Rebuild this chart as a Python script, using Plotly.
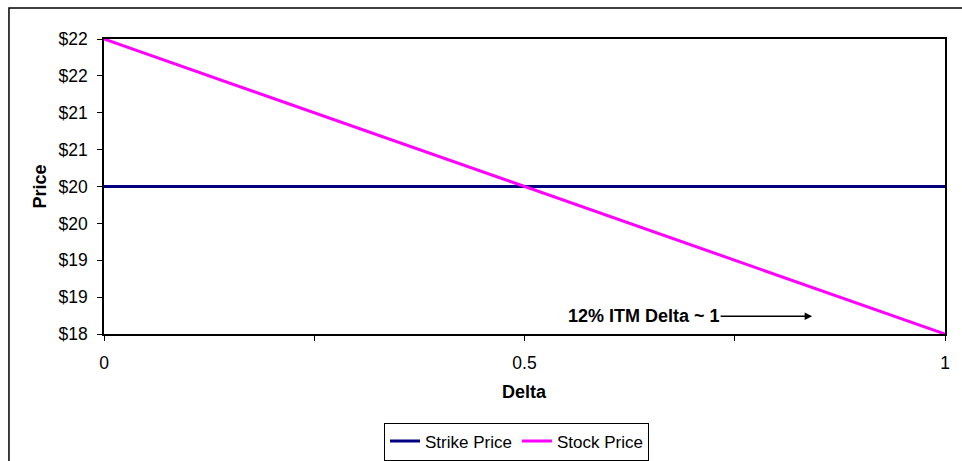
import plotly.graph_objects as go

# Option delta vs. price
delta = [0, 0.5, 1]
strike_price = [20, 20, 20]
stock_price = [22, 20, 18]

y_tickvals = [18, 18.5, 19, 19.5, 20, 20.5, 21, 21.5, 22]
y_ticktext = ["$18", "$19", "$19", "$20", "$20", "$21", "$21", "$22", "$22"]
x_tickvals = [0, 0.25, 0.5, 0.75, 1]
x_ticktext = ["0", "", "0.5", "", "1"]

FONT = "Liberation Sans, Arial, sans-serif"
FS = 17.5
FSB = 18

fig = go.Figure()
fig.add_trace(go.Scatter(x=delta, y=strike_price, mode="lines", name="Strike Price",
                         line=dict(color="#000080", width=3)))
fig.add_trace(go.Scatter(x=delta, y=stock_price, mode="lines", name="Stock Price",
                         line=dict(color="#FF00FF", width=3)))

fig.update_layout(
    width=962, height=461,
    margin=dict(l=104, r=17, t=39, b=127, autoexpand=False),
    paper_bgcolor="white", plot_bgcolor="white",
    font=dict(family=FONT, size=FS, color="black"),
    showlegend=True,
    legend=dict(orientation="h", x=0.4905, xanchor="center", y=-0.3, yanchor="top",
                bordercolor="black", borderwidth=1, font=dict(size=17),
                tracegroupgap=0),
    xaxis=dict(range=[0, 1], tickvals=x_tickvals, ticktext=x_ticktext,
               ticks="outside", ticklen=5, tickcolor="black", ticklabelstandoff=7,
               showline=True, linecolor="black", linewidth=1.5, mirror=True,
               showgrid=False, zeroline=False),
    yaxis=dict(range=[18, 22], tickvals=y_tickvals, ticktext=y_ticktext,
               ticks="outside", ticklen=5, tickcolor="black", ticklabelstandoff=6,
               showline=True, linecolor="black", linewidth=1.5, mirror=True,
               showgrid=False, zeroline=False),
)

# axis titles
fig.add_annotation(text="<b>Price</b>", xref="paper", yref="paper",
                   x=-0.0761, y=0.5, textangle=-90, showarrow=False,
                   xanchor="center", yanchor="middle", font=dict(size=FSB))
fig.add_annotation(text="<b>Delta</b>", xref="paper", yref="paper",
                   x=0.5, y=-0.1966, showarrow=False,
                   xanchor="center", yanchor="middle", font=dict(size=FSB))

# annotation with arrow pointing right
fig.add_annotation(x=0.842, y=18.24, xref="x", yref="y",
                   text="<b>12% ITM Delta ~ 1</b>", font=dict(size=FSB),
                   showarrow=True, ax=-168, ay=0, arrowhead=2, arrowsize=1,
                   arrowwidth=1.5, arrowcolor="black", borderpad=0)

# outer chart frame
fig.add_shape(type="rect", xref="paper", yref="paper",
              x0=-0.113, x1=1.2, y0=-0.6, y1=1.105,
              line=dict(color="black", width=1.5), layer="below")

fig.write_html("out.html")
